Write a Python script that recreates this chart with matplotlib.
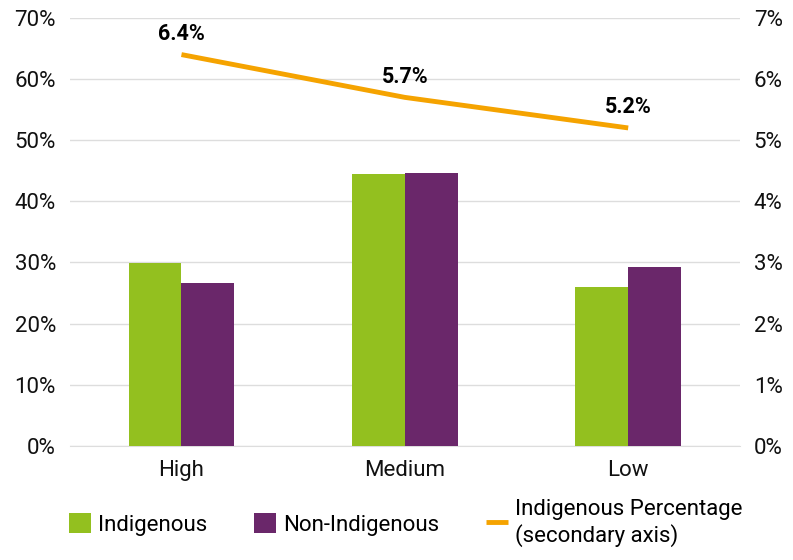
import matplotlib.pyplot as plt
import numpy as np

plt.rcParams['font.family'] = ['Roboto', 'DejaVu Sans']

categories = ["High", "Medium", "Low"]
indigenous = [29.9, 44.5, 26.0]
non_indigenous = [26.6, 44.7, 29.2]
indig_pct = [6.4, 5.7, 5.2]

green = "#93C01F"
purple = "#6A276A"
orange = "#F5A300"

fig = plt.figure(figsize=(7.93, 5.6), dpi=100)
ax = fig.add_axes([0.088, 0.204, 0.845, 0.764])
ax2 = ax.twinx()

x = np.arange(len(categories))
w = 0.237
ax.bar(x - w / 2, indigenous, w, color=green, label="Indigenous", zorder=3)
ax.bar(x + w / 2, non_indigenous, w, color=purple, label="Non-Indigenous", zorder=3)

ax2.plot(x, indig_pct, color=orange, lw=3.5, solid_capstyle="butt",
         label="Indigenous Percentage\n(secondary axis)")
for xi, v in zip(x, indig_pct):
    ax2.annotate(f"{v:.1f}%", (xi, v), xytext=(0, 7), textcoords="offset points",
                 ha="center", va="bottom", fontsize=15.5, fontweight="bold")

ax.set_xlim(-0.5, 2.5)
ax.set_ylim(0, 70)
ax2.set_ylim(0, 7)
ax.set_yticks(np.arange(0, 71, 10))
ax2.set_yticks(np.arange(0, 8, 1))
ax.set_yticklabels([f"{t}%" for t in range(0, 71, 10)])
ax2.set_yticklabels([f"{t}%" for t in range(0, 8)])
ax.set_xticks(x)
ax.set_xticklabels(categories)

ax.grid(axis="y", color="#DDDDDD", lw=1, zorder=0)
for a in (ax, ax2):
    for s in a.spines.values():
        s.set_visible(False)
    a.tick_params(length=0, labelsize=16, colors="#111111")
ax.spines["bottom"].set_visible(True)
ax.spines["bottom"].set_color("#DDDDDD")
ax.tick_params(axis="y", pad=10)
ax2.tick_params(axis="y", pad=10)
ax.tick_params(axis="x", pad=10)

h1, l1 = ax.get_legend_handles_labels()
h2, l2 = ax2.get_legend_handles_labels()
fig.legend(h1 + h2, l1 + l2, loc="lower left", bbox_to_anchor=(0.062, -0.012), ncol=3,
           frameon=False, fontsize=16, handlelength=1.0, handleheight=1.0,
           columnspacing=2.1, handletextpad=0.3)

fig.savefig("out.png", dpi=100)
